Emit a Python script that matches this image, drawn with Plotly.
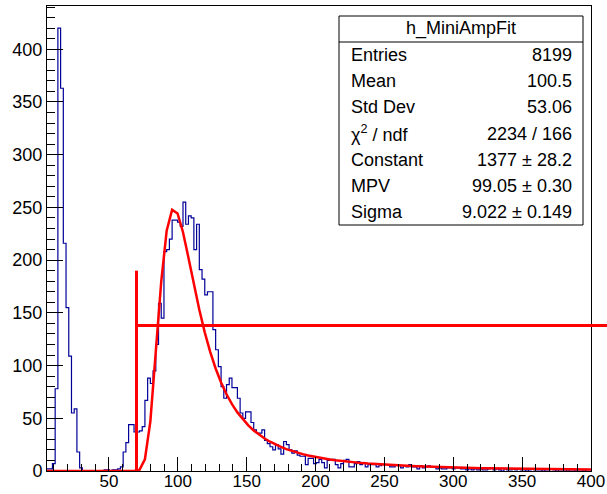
import numpy as np
import plotly.graph_objects as go

# ---- histogram h_MiniAmpFit: 200 bins over [5, 400] ----
x_low, x_high = 5.0, 400.0
n_bins = 200
counts = [
    2, 2, 7, 78, 420, 363, 216, 155, 109, 55,
    59, 18, 3, 0, 0, 0, 0, 0, 0, 0,
    0, 1, 1, 0, 1, 1, 2, 4, 18, 27,
    44, 44, 37, 37, 38, 42, 67, 88, 83, 95,
    120, 159, 145, 208, 210, 220, 238, 238, 236, 232,
    255, 234, 242, 240, 210, 234, 191, 182, 167, 170,
    170, 134, 115, 99, 80, 69, 82, 88, 79, 79,
    69, 55, 50, 56, 56, 46, 39, 36, 36, 39,
    29, 26, 23, 20, 25, 21, 16, 28, 25, 20,
    17, 19, 15, 14, 14, 6, 12, 12, 7, 8,
    11, 8, 3, 10, 11, 11, 6, 3, 7, 10,
    11, 4, 4, 7, 9, 6, 8, 4, 6, 6,
    6, 4, 5, 6, 6, 6, 4, 4, 6, 5,
    3, 5, 4, 6, 4, 4, 2, 5, 3, 4,
    5, 4, 4, 2, 3, 2, 2, 3, 3, 2,
    3, 3, 2, 2, 1, 2, 1, 2, 1, 2,
    1, 1, 2, 3, 1, 2, 1, 0, 2, 1,
    1, 2, 1, 2, 1, 1, 0, 1, 2, 1,
    1, 1, 0, 1, 1, 2, 1, 0, 1, 1,
    1, 0, 1, 1, 0, 1, 1, 0, 1, 1,
]
assert len(counts) == n_bins

# ---- Landau fit parameters ----
fit_constant = 1377.0
fit_mpv = 99.05
fit_sigma = 9.022
fit_npx = 100

# ---- cut lines ----
cut_x = 70.0
cut_top = 190.0
cut_level = 138.0

# ---- statistics box ----
stats_title = "h_MiniAmpFit"
stats_labels = ["Entries", "Mean", "Std Dev", "χ<sup>2</sup> / ndf",
                "Constant", "MPV", "Sigma"]
stats_values = ["8199", "100.5", "53.06", "2234 / 166",
                "1377 ± 28.2", "99.05 ± 0.30", "9.022 ± 0.149"]

y_max = 441.0


def landau_density(lam):
    """Landau density (ROOT TMath::Landau, not normalised by sigma),
    integrated along the vertical line through the saddle point."""
    s0 = np.exp(-1.0 - lam)
    t = np.linspace(0.0, 60.0, 60001)
    s = s0 + 1j * t
    integrand = np.exp(s * np.log(s) + lam * s).real
    return np.trapezoid(integrand, t) / np.pi


edges = np.linspace(x_low, x_high, n_bins + 1)
step_y = list(counts) + [counts[-1]]

fx = np.linspace(x_low, x_high, fit_npx + 1)
fy = np.array([fit_constant * landau_density((v - fit_mpv) / fit_sigma) for v in fx])

fig = go.Figure()
fig.add_trace(go.Scatter(
    x=edges, y=step_y, mode="lines", line_shape="hv",
    line=dict(color="#000099", width=1.2), hoverinfo="skip", showlegend=False,
))
fig.add_trace(go.Scatter(
    x=fx, y=fy, mode="lines",
    line=dict(color="#ff0000", width=2.5), hoverinfo="skip", showlegend=False,
))

# frame geometry in pixels
W, H = 607, 494
ml, mr, mt, mb = 47, 16, 6, 23
pw, ph = W - ml - mr, H - mt - mb


def px(xp):
    return (xp - ml) / pw


def py(yp):
    return (H - mb - yp) / ph


shapes = [
    # cut lines
    dict(type="line", xref="x", yref="y", x0=cut_x, x1=cut_x, y0=0, y1=cut_top,
         line=dict(color="#ff0000", width=3)),
    dict(type="line", xref="x", yref="y", x0=cut_x, x1=x_high, y0=cut_level, y1=cut_level,
         line=dict(color="#ff0000", width=3)),
    dict(type="line", xref="paper", yref="y", x0=1.0, x1=1.06, y0=cut_level, y1=cut_level,
         line=dict(color="#ff0000", width=3)),
]

# stats box
box_l, box_r, box_t, box_b, box_sep = 339, 583, 16, 225, 42
shapes.append(dict(type="rect", xref="paper", yref="paper",
                   x0=px(box_l), x1=px(box_r), y0=py(box_b), y1=py(box_t),
                   fillcolor="white", line=dict(color="black", width=1)))
shapes.append(dict(type="line", xref="paper", yref="paper",
                   x0=px(box_l), x1=px(box_r), y0=py(box_sep), y1=py(box_sep),
                   line=dict(color="black", width=1)))

font_family = "Liberation Sans, Arial, sans-serif"
stat_size = 18
annotations = [dict(text=stats_title, xref="paper", yref="paper",
                    x=px((box_l + box_r) / 2), y=py((box_t + box_sep) / 2),
                    xanchor="center", yanchor="middle", showarrow=False,
                    font=dict(family=font_family, size=stat_size, color="black"))]
row_h = (box_b - box_sep) / len(stats_labels)
for i, (lab, val) in enumerate(zip(stats_labels, stats_values)):
    yc = box_sep + row_h * (i + 0.5)
    annotations.append(dict(text=lab, xref="paper", yref="paper", x=px(box_l + 10), y=py(yc),
                            xanchor="left", yanchor="middle", showarrow=False,
                            font=dict(family=font_family, size=stat_size, color="black")))
    annotations.append(dict(text=val, xref="paper", yref="paper", x=px(box_r - 9), y=py(yc),
                            xanchor="right", yanchor="middle", showarrow=False,
                            font=dict(family=font_family, size=stat_size, color="black")))

axis_common = dict(
    showline=True, mirror=True, linecolor="black", linewidth=1, automargin=False,
    showgrid=False, zeroline=False, ticks="inside", tickcolor="black", tickwidth=1,
)

fig.update_layout(
    width=W, height=H,
    margin=dict(l=ml, r=mr, t=mt, b=mb, pad=0),
    paper_bgcolor="white", plot_bgcolor="white",
    shapes=shapes, annotations=annotations,
    xaxis=dict(range=[x_low, x_high], tick0=0, dtick=50, ticklen=14,
               ticklabelstandoff=-5,
               tickfont=dict(family=font_family, size=17, color="black"),
               minor=dict(ticks="inside", ticklen=7, dtick=10, tick0=0,
                          tickcolor="black", showgrid=False),
               **axis_common),
    yaxis=dict(range=[0, y_max], tick0=0, dtick=50, ticklen=16,
               tickfont=dict(family=font_family, size=18, color="black"),
               minor=dict(ticks="inside", ticklen=8, dtick=10, tick0=0,
                          tickcolor="black", showgrid=False),
               **axis_common),
)

fig.write_html("out.html")
